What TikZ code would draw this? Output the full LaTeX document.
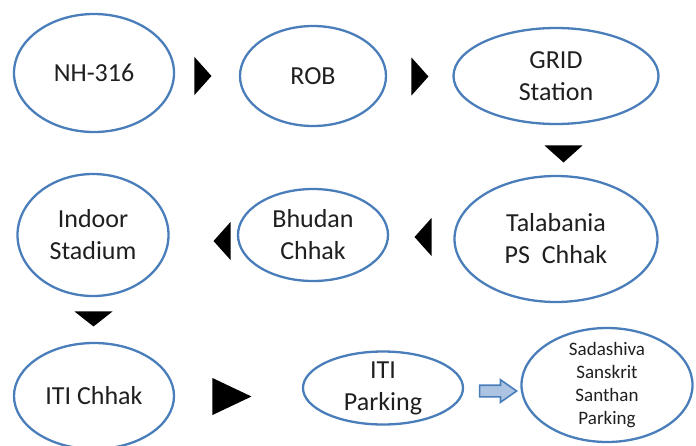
\documentclass[tikz,border=0pt]{standalone}
\usepackage{fontspec}
\setmainfont{Carlito}
\usetikzlibrary{shapes,shapes.geometric,shapes.arrows,positioning}

\definecolor{ringblue}{RGB}{74,126,187}
\definecolor{paleblue}{RGB}{172,196,226}

\tikzset{
  spot/.style={ellipse,draw=ringblue,line width=2.3pt,align=center,inner sep=-4pt,
    text=black!88,font=\fontsize{26}{32}\selectfont},
  smallspot/.style={spot,font=\fontsize{19}{23}\selectfont},
  pointer/.style={isosceles triangle,isosceles triangle stretches,fill=black,inner sep=0pt,
    minimum height=17pt,minimum width=38pt,anchor=apex},
  hollow/.style={single arrow,draw=ringblue,fill=paleblue,line width=1.6pt,inner xsep=0pt,
    inner ysep=5pt,minimum height=37pt,minimum width=21pt,single arrow head extend=5.5pt,
    single arrow tip angle=70,anchor=tip}
}

\begin{document}
\begin{tikzpicture}[x=1pt,y=-1pt]
\useasboundingbox (0,0) rectangle (696,445);

\begin{scope}
\def\toprow{nh/94/73/160/118/{NH-316},rob/313/76/146/100/{ROB},grid/556/76/205/96/{GRID\\Station}}
\foreach \nm/\px/\py/\ww/\hh/\txt in \toprow
  \node [spot,minimum width=\ww pt,minimum height=\hh pt] (\nm) at (\px,\py) {\txt};
\end{scope}

\begin{scope}
\def\midrow{tala/556/239/203/126/{Talabania\\PS\ \ Chhak},bhudan/313/235/150/92/{Bhudan\\Chhak},indoor/93/235/151/122/{Indoor\\Stadium}}
\foreach \nm/\px/\py/\ww/\hh/\txt in \midrow
  \node [spot,minimum width=\ww pt,minimum height=\hh pt] (\nm) at (\px,\py) {\txt};
\end{scope}

\begin{scope}
\def\lowrow{itichhak/94/396/160/106/{ITI Chhak},itipark/383/388/160/73/{ITI\\Parking}}
\foreach \nm/\px/\py/\ww/\hh/\txt in \lowrow
  \node [spot,minimum width=\ww pt,minimum height=\hh pt] (\nm) at (\px,\py) {\txt};
\node [smallspot,minimum width=171pt,minimum height=114pt] (sadashiva) at (607,385)
  {Sadashiva\\Sanskrit\\Santhan\\Parking};
\end{scope}

\node [pointer] (p1) at (212,76) {};
\node [pointer] (p2) at (429,76.5) {};
\node [pointer,shape border rotate=270] (p3) at (563.5,163) {};
\node [pointer,shape border rotate=180] (p4) at (414,237) {};
\node [pointer,shape border rotate=180] (p5) at (213,241) {};
\node [pointer,shape border rotate=270,minimum height=15pt] (p6) at (93.5,327) {};
\node [pointer,minimum height=39pt,minimum width=37pt] (p7) at (252,396.5) {};
\node [hollow] (p8) at (518,391) {};

\end{tikzpicture}
\end{document}
